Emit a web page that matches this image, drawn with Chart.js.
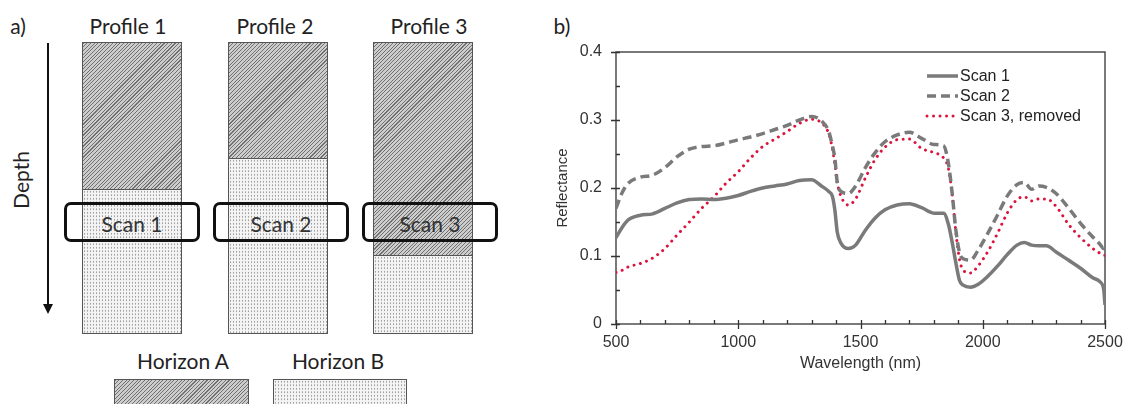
<!DOCTYPE html>
<html>
<head>
<meta charset="utf-8">
<script src="https://cdn.jsdelivr.net/npm/chart.js@4.4.0/dist/chart.umd.min.js"></script>
<style>
body{margin:0;background:#fff;width:1125px;height:404px;overflow:hidden;position:relative;font-family:Lato,"Open Sans",sans-serif;color:#222}
.lbl{position:absolute;font-size:21px;transform:translate(-50%,-50%);white-space:nowrap}
.col{position:absolute;border:1px solid #555;box-sizing:border-box;overflow:hidden}
.zone{position:absolute;left:0;right:0}
.hatch{background:repeating-linear-gradient(135deg,#707070 0 0.8px,#cdcdcd 0.8px 2.6px)}
.dots{background-color:#f4f4f4;background-image:radial-gradient(circle,#a0a0a0 0.7px,transparent 1.1px);background-size:3px 3.5px}
.scan{position:absolute;border:3px solid #111;border-radius:7px;box-sizing:border-box;height:40px;top:202px;width:136px}
#chartBox{position:absolute;left:545px;top:0;width:580px;height:404px}
</style>
</head>
<body>

<!-- a) soil profile sketch -->
<div class="lbl" style="left:18px;top:25px">a)</div>
<div class="lbl" style="left:128px;top:25px">Profile 1</div>
<div class="lbl" style="left:275px;top:25px">Profile 2</div>
<div class="lbl" style="left:429px;top:25px">Profile 3</div>

<div class="col" style="left:82px;top:42px;width:100px;height:292px">
  <div class="zone hatch" style="top:0;height:146px"></div>
  <div class="zone dots" style="top:146px;bottom:0;border-top:1px solid #555"></div>
</div>
<div class="col" style="left:228px;top:42px;width:100px;height:292px">
  <div class="zone hatch" style="top:0;height:115px"></div>
  <div class="zone dots" style="top:115px;bottom:0;border-top:1px solid #555"></div>
</div>
<div class="col" style="left:373px;top:42px;width:100px;height:292px">
  <div class="zone hatch" style="top:0;height:212px"></div>
  <div class="zone dots" style="top:212px;bottom:0;border-top:1px solid #555"></div>
</div>

<div class="scan" style="left:64px"></div>
<div class="scan" style="left:213px"></div>
<div class="scan" style="left:362px"></div>
<div class="lbl" style="left:132px;top:223px;color:#333">Scan 1</div>
<div class="lbl" style="left:281px;top:223px;color:#333">Scan 2</div>
<div class="lbl" style="left:430px;top:223px;color:#333">Scan 3</div>

<div style="position:absolute;left:47px;top:43px;width:2px;height:264px;background:#111"></div>
<div style="position:absolute;left:43px;top:304px;width:0;height:0;border-left:5px solid transparent;border-right:5px solid transparent;border-top:10px solid #111"></div>
<div class="lbl" style="left:20px;top:180px;transform:translate(-50%,-50%) rotate(-90deg)">Depth</div>

<div class="lbl" style="left:183px;top:360px">Horizon A</div>
<div class="lbl" style="left:338px;top:360px">Horizon B</div>
<div class="col hatch" style="left:114px;top:379px;width:135px;height:40px"></div>
<div class="col dots" style="left:273px;top:379px;width:134px;height:40px"></div>

<!-- b) spectra -->
<div class="lbl" style="left:562px;top:25px">b)</div>
<div id="chartBox"><canvas id="spectra"></canvas></div>

<script>
/*---------------------------------
   DATA
 ----------------------------------*/
var wavelength = [500, 525, 550, 600, 650, 700, 750, 800, 850, 900, 950, 1000, 1050, 1100, 1150, 1200,
    1250, 1300, 1340, 1370, 1385, 1395, 1405, 1420, 1450, 1480, 1520, 1560, 1600, 1650, 1700, 1750,
    1800, 1840, 1860, 1875, 1890, 1905, 1920, 1950, 1980, 2020, 2060, 2100, 2140, 2170, 2200, 2230,
    2260, 2300, 2350, 2400, 2450, 2480, 2495, 2500];

var scan1 = [0.127, 0.142, 0.153, 0.160, 0.162, 0.170, 0.178, 0.183, 0.184, 0.183, 0.185, 0.189, 0.195, 0.200, 0.203, 0.206,
    0.211, 0.212, 0.203, 0.195, 0.188, 0.168, 0.135, 0.119, 0.111, 0.116, 0.138, 0.156, 0.168, 0.175, 0.177, 0.171,
    0.163, 0.163, 0.146, 0.120, 0.090, 0.064, 0.057, 0.054, 0.058, 0.070, 0.085, 0.102, 0.116, 0.120, 0.116, 0.115,
    0.115, 0.106, 0.094, 0.082, 0.068, 0.062, 0.050, 0.028];

var scan2 = [0.170, 0.193, 0.207, 0.216, 0.219, 0.230, 0.246, 0.257, 0.261, 0.262, 0.266, 0.271, 0.275, 0.280, 0.286, 0.292,
    0.300, 0.305, 0.299, 0.283, 0.262, 0.244, 0.208, 0.195, 0.192, 0.203, 0.230, 0.252, 0.268, 0.278, 0.282, 0.273,
    0.264, 0.262, 0.235, 0.192, 0.138, 0.105, 0.096, 0.094, 0.108, 0.133, 0.160, 0.188, 0.205, 0.208, 0.198, 0.203,
    0.201, 0.192, 0.171, 0.148, 0.128, 0.117, 0.111, 0.112];

var scan3 = [0.076, 0.079, 0.084, 0.089, 0.097, 0.111, 0.131, 0.150, 0.170, 0.187, 0.207, 0.224, 0.244, 0.261, 0.272, 0.283,
    0.295, 0.301, 0.296, 0.280, 0.258, 0.235, 0.208, 0.188, 0.175, 0.184, 0.215, 0.242, 0.260, 0.271, 0.272, 0.258,
    0.252, 0.244, 0.228, 0.190, 0.135, 0.095, 0.079, 0.075, 0.085, 0.106, 0.133, 0.163, 0.183, 0.187, 0.181, 0.184,
    0.184, 0.173, 0.147, 0.127, 0.111, 0.104, 0.101, 0.101];

var seriesNames = ['Scan 1', 'Scan 2', 'Scan 3, removed'];
var xTicks = [500, 1000, 1500, 2000, 2500];
var yTicks = [0, 0.1, 0.2, 0.3, 0.4];

function pts(vals) {
    return vals.map(function(v, i) { return {x: wavelength[i], y: v}; });
}

/*---------------------------------
   FRAME, MINOR TICKS, LEGEND
 ----------------------------------*/
var frame = {
    id: 'frame',
    beforeDatasetsDraw: function(chart) {
        var ctx = chart.ctx, a = chart.chartArea, x = chart.scales.x, y = chart.scales.y;
        ctx.save();
        ctx.strokeStyle = '#333';
        ctx.lineWidth = 1.3;
        ctx.strokeRect(a.left, a.top, a.right - a.left, a.bottom - a.top);
        ctx.beginPath();
        for (var w = 500; w <= 2500; w += 100) {
            var px = Math.round(x.getPixelForValue(w)) + 0.5;
            ctx.moveTo(px, a.bottom + (w % 500 === 0 ? 5 : 0));
            ctx.lineTo(px, a.bottom - 4);
        }
        for (var i = 0; i <= 8; i++) {
            var py = Math.round(y.getPixelForValue(i * 0.05)) + 0.5;
            ctx.moveTo(a.left - (i % 2 === 0 ? 5 : 0), py);
            ctx.lineTo(a.left + 4, py);
        }
        ctx.stroke();
        ctx.restore();
    },
    afterDraw: function(chart) {
        var ctx = chart.ctx;
        ctx.save();
        ctx.font = '16px "Liberation Sans", Arial, sans-serif';
        ctx.fillStyle = '#222';
        ctx.textBaseline = 'middle';
        chart.data.datasets.forEach(function(ds, i) {
            var ly = 76 + i * 20;
            ctx.beginPath();
            ctx.strokeStyle = ds.borderColor;
            ctx.lineWidth = ds.borderWidth;
            ctx.lineCap = ds.borderCapStyle || 'butt';
            ctx.setLineDash(ds.borderDash || []);
            ctx.moveTo(382, ly);
            ctx.lineTo(413, ly);
            ctx.stroke();
            ctx.fillText(ds.label, 415, ly + 1);
        });
        ctx.restore();
    }
};

Chart.defaults.font.family = '"Liberation Sans", Arial, sans-serif';
Chart.defaults.color = '#333';

var config = {
    type: 'line',
    data: {
        datasets: [{
            label: seriesNames[0],
            data: pts(scan1),
            borderColor: '#7a7a7a',
            borderWidth: 3.5,
            pointRadius: 0,
            cubicInterpolationMode: 'monotone'
        }, {
            label: seriesNames[1],
            data: pts(scan2),
            borderColor: '#7a7a7a',
            borderWidth: 3.5,
            borderDash: [9, 5],
            pointRadius: 0,
            cubicInterpolationMode: 'monotone'
        }, {
            label: seriesNames[2],
            data: pts(scan3),
            borderColor: '#dc143c',
            borderWidth: 3,
            borderDash: [0.01, 6.5],
            borderCapStyle: 'round',
            pointRadius: 0,
            cubicInterpolationMode: 'monotone'
        }]
    },
    options: {
        responsive: true,
        maintainAspectRatio: false,
        animation: false,
        layout: { padding: { left: 9, top: 52, right: 20, bottom: 31 } },
        plugins: { legend: { display: false }, tooltip: { enabled: false } },
        scales: {
            x: {
                type: 'linear',
                min: 500,
                max: 2500,
                afterBuildTicks: function(s) { s.ticks = xTicks.map(function(v) { return {value: v}; }); },
                afterFit: function(s) { s.height = 49; s.paddingLeft = 0; s.paddingRight = 0; },
                grid: { display: false, drawTicks: false },
                border: { display: false },
                ticks: { padding: 9, font: { size: 16 }, callback: function(v) { return String(v); } },
                title: { display: true, text: 'Wavelength (nm)', font: { size: 16 }, padding: 0 }
            },
            y: {
                min: 0,
                max: 0.4,
                afterBuildTicks: function(s) { s.ticks = yTicks.map(function(v) { return {value: v}; }); },
                afterFit: function(s) { s.width = 62; s.paddingTop = 0; s.paddingBottom = 0; },
                grid: { display: false, drawTicks: false },
                border: { display: false },
                ticks: { padding: 14, font: { size: 16 } },
                title: { display: true, text: 'Reflectance', font: { size: 15 }, padding: 0 }
            }
        }
    },
    plugins: [frame]
};

window.onload = function() {
    var ctx = document.getElementById('spectra').getContext('2d');
    window.spectraChart = new Chart(ctx, config);
};
</script>
</body>
</html>
